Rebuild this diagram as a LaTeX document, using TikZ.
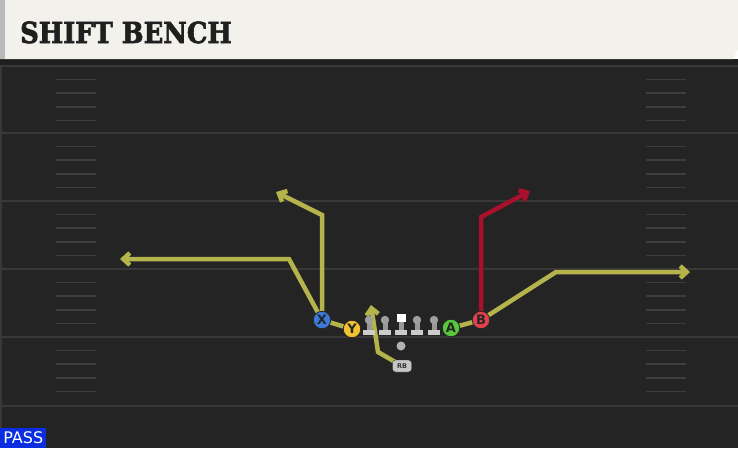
\documentclass[tikz,border=0pt]{standalone}
\usepackage{fontspec}
\usetikzlibrary{arrows.meta}
\newfontfamily\titlefont{DejaVu Serif}[BoldFeatures={FakeBold=2.4}]
\newfontfamily\tagfont{DejaVu Sans}

\definecolor{turf}{HTML}{242424}
\definecolor{yardline}{HTML}{383838}
\definecolor{hashline}{HTML}{3E3E3E}
\definecolor{banner}{HTML}{F3F1EB}
\definecolor{routeolive}{HTML}{B5B34C}
\definecolor{routered}{HTML}{A8102C}
\definecolor{passblue}{HTML}{0A2EE0}
\definecolor{xblue}{HTML}{3B7AD9}
\definecolor{yyellow}{HTML}{F2C230}
\definecolor{agreen}{HTML}{57C83B}
\definecolor{bred}{HTML}{E0414F}

\pgfdeclarelayer{field}
\pgfdeclarelayer{routes}
\pgfsetlayers{field,routes,main}

\tikzstyle{player} = [circle,draw=black!85,line width=0.8pt,minimum size=17.5pt,
                      inner sep=0pt,text=black!85,
                      font=\tagfont\bfseries\fontsize{13}{13}\selectfont]
\tikzstyle{route}  = [line width=4.5pt,draw=routeolive,
                      -{Straight Barb[length=6.5pt,width=12pt]}]
\tikzstyle{hot}    = [route,draw=routered]
\tikzstyle{hash}   = [draw=hashline,line width=1.5pt]
\tikzstyle{yard}   = [draw=yardline,line width=2pt]

\begin{document}
\begin{tikzpicture}[x=1pt,y=-1pt]
  \useasboundingbox (0,0) rectangle (738,448);

  \begin{pgfonlayer}{field}
    \fill[turf] (0,59) rectangle (738,448);
    \fill[black!88] (0,59) rectangle (738,65);
    \fill[yardline] (0,65) rectangle (2,448);
    \foreach \y in {66,133,201,269,337,406}
      \draw[yard] (0,\y) -- (738,\y);
    \foreach \y in {66,133,201,269,337}
      \foreach \k in {1,...,4} {
        \draw[hash] (56,{\y+13.6*\k}) -- (96,{\y+13.6*\k});
        \draw[hash] (646,{\y+13.6*\k}) -- (686,{\y+13.6*\k});
      }
    \fill[banner] (0,0) -- (738,0) -- (738,49) -- (733,59) -- (0,59) -- cycle;
    \fill[gray!55] (0,0) rectangle (5,59);
  \end{pgfonlayer}

  \node[anchor=base west,text=black!88,inner sep=0pt,
        font=\titlefont\bfseries\fontsize{29}{29}\selectfont] (title) at (20,43)
        {\scalebox{0.89}[1]{SHIFT BENCH}};

  % offensive line
  \foreach \x in {369,385,401,417,434} {
    \fill[gray!80!white] (\x-2.5,322) rectangle (\x+2.5,331);
    \fill[gray!40!white] (\x-6,329.5) rectangle (\x+6,335);
  }
  \foreach \x in {369,385,417,434}
    \fill[gray!75] (\x,320) circle (4.2);
  \fill[white] (397,313.5) rectangle (405.5,322);
  \fill[gray!60] (401,346) circle (4.5);

  \node[player,fill=xblue]   (X) at (322,320) {X};
  \node[player,fill=yyellow] (Y) at (352,329) {Y};
  \node[player,fill=agreen]  (A) at (451,328) {A};
  \node[player,fill=bred]    (B) at (481,320) {B};
  \node[draw=black!80,fill=gray!45,rounded corners=3pt,minimum width=19pt,minimum height=12pt,
        inner sep=0pt,text=black!80,font=\tagfont\bfseries\fontsize{6.5}{6.5}\selectfont] (RB) at (402,366) {RB};

  \coordinate (xcut) at (322,215);
  \coordinate (xend) at (276,192);
  \coordinate (ybend) at (289,259);
  \coordinate (yend) at (120,259);
  \coordinate (rbbend) at (378,352);
  \coordinate (rbend) at (371,305);
  \coordinate (abend) at (556,272);
  \coordinate (aend) at (690,272);
  \coordinate (bcut) at (481,217);
  \coordinate (bend) at (530,191);

  \begin{pgfonlayer}{routes}
    \draw[route] (X.center) -- (xcut) -- (xend);
    \draw[route] (Y.center) -- (X.center) -- (ybend) -- (yend);
    \draw[route] (RB.center) -- (rbbend) -- (rbend);
    \draw[route] (A.center) -- (B.center) -- (abend) -- (aend);
    \draw[hot] (B.center) -- (bcut) -- (bend);
  \end{pgfonlayer}

  \node[fill=passblue,text=white,anchor=south west,minimum width=46pt,minimum height=20pt,
        inner sep=0pt,font=\tagfont\fontsize{16}{16}\selectfont] (playtype) at (0,448) {PASS};
\end{tikzpicture}
\end{document}
